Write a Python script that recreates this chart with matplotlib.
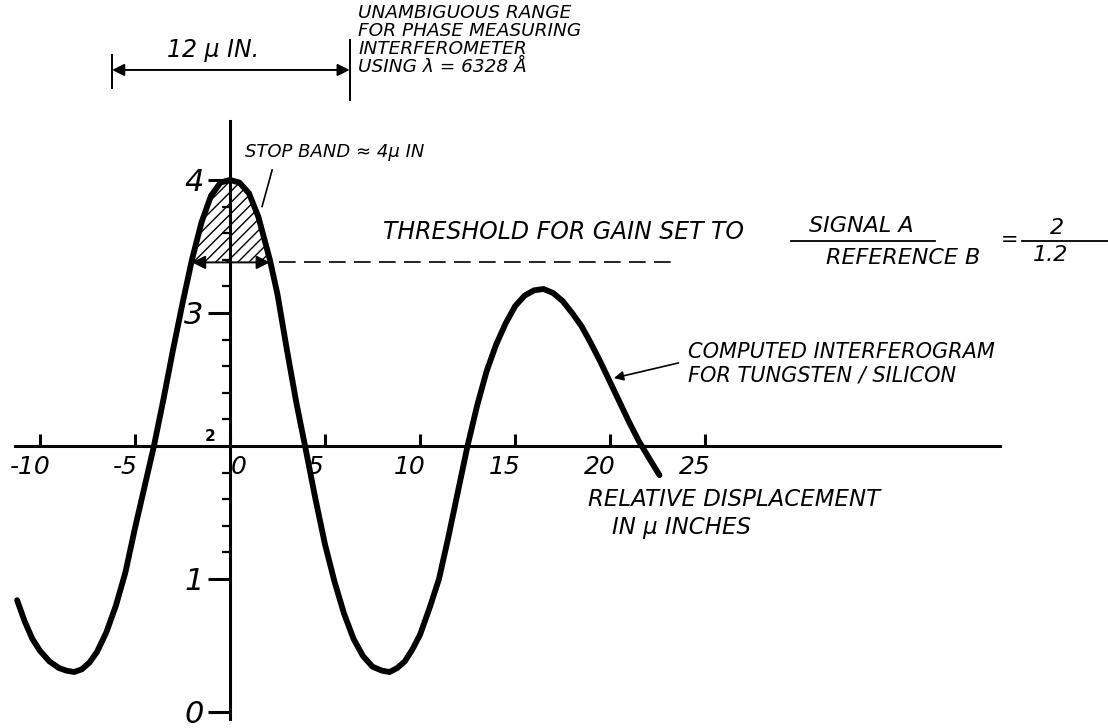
import numpy as np
import matplotlib
matplotlib.use("Agg")
import matplotlib.pyplot as plt
from matplotlib.transforms import ScaledTranslation

# computed interferogram, tungsten on silicon (relative displacement in micro-inches)
disp = [-11.2, -10.8, -10.4, -10.0, -9.5, -9.0, -8.6, -8.2, -7.8, -7.4, -7.0, -6.5,
        -6.0, -5.5, -5.0, -4.5, -4.0, -3.5, -3.0, -2.5, -2.0, -1.5, -1.0, -0.5,
        0.0, 0.5, 1.0, 1.5, 2.1, 2.5, 3.0, 3.5, 3.95, 4.5, 5.0, 5.5, 6.0, 6.5,
        7.0, 7.5, 8.0, 8.4, 8.8, 9.2, 9.6, 10.0, 10.5, 11.0, 11.5, 12.0, 12.5,
        13.0, 13.5, 14.0, 14.5, 15.0, 15.5, 16.0, 16.5, 17.0, 17.5, 18.0, 18.5,
        19.0, 19.5, 20.0, 20.5, 21.0, 21.5, 22.0, 22.6]
signal = [0.84, 0.68, 0.55, 0.46, 0.38, 0.33, 0.31, 0.30, 0.32, 0.37, 0.45, 0.60,
          0.80, 1.05, 1.38, 1.69, 2.00, 2.35, 2.72, 3.07, 3.40, 3.68, 3.88, 3.98,
          4.00, 3.98, 3.90, 3.72, 3.40, 3.14, 2.72, 2.32, 2.00, 1.60, 1.26, 0.98,
          0.74, 0.55, 0.42, 0.34, 0.31, 0.30, 0.33, 0.38, 0.47, 0.58, 0.78, 1.00,
          1.32, 1.66, 2.00, 2.30, 2.56, 2.76, 2.92, 3.05, 3.13, 3.17, 3.18, 3.15,
          3.09, 3.00, 2.90, 2.77, 2.63, 2.48, 2.33, 2.18, 2.04, 1.92, 1.78]

threshold = 3.38
band_lo, band_hi = -2.0, 2.1
range_lo, range_hi = -6.2, 6.3

xticks = [-10, -5, 0, 5, 10, 15, 20, 25]
xlabels = ['-10', '-5', '0', '5', '10', '15', '20', '25']
yticks = [0, 1, 3, 4]
ylabels = ['0', '1', '3', '4']
yminor = [1.2, 1.4, 1.6, 1.8, 2.2, 2.4, 2.6, 2.8, 3.2, 3.4, 3.6, 3.8]

hand = dict(family='DejaVu Sans', style='oblique', color='black')

plt.rcParams['hatch.linewidth'] = 1.0

fig = plt.figure(figsize=(11.08, 7.28), dpi=100)
ax = fig.add_axes([0, 0, 1, 1])
ax.set_xlim(-12.1, 46.2)
ax.set_ylim(-0.121, 5.353)

# axes crossing at (0, 2)
for s in ['top', 'right']:
    ax.spines[s].set_visible(False)
ax.spines['left'].set_position(('data', 0))
ax.spines['bottom'].set_position(('data', 2))
ax.spines['left'].set_bounds(-0.05, 4.44)
ax.spines['bottom'].set_bounds(-11.3, 40.5)
ax.spines['left'].set_linewidth(2.2)
ax.spines['bottom'].set_linewidth(2.2)

ax.set_xticks(xticks)
ax.set_xticklabels([])
ax.tick_params(axis='x', direction='in', length=9, width=2.2)
ax.set_yticks(yticks)
ax.set_yticklabels(ylabels, fontsize=22, **hand)
ax.set_yticks(yminor, minor=True)
ax.tick_params(axis='y', which='major', direction='out', length=16, width=2.2, pad=3)
ax.tick_params(axis='y', which='minor', direction='out', length=6, width=1.6)

off_left = ScaledTranslation(-0.10, 0, fig.dpi_scale_trans)
off_right = ScaledTranslation(0.09, 0, fig.dpi_scale_trans)
for v, s in zip(xticks, xlabels):
    tr = ax.transData + (off_right if v == 0 else off_left)
    ax.text(v, 1.84, s, transform=tr, fontsize=18, ha='center', va='center', **hand)
ax.text(-1.05, 2.07, '2', fontsize=11, fontweight='bold', ha='center', va='center')

# curve
ax.plot(disp, signal, color='black', lw=4.2, solid_capstyle='round',
        solid_joinstyle='round', zorder=3)

# stop band hatching above threshold
d = np.array(disp)
sg = np.array(signal)
m = (d >= band_lo) & (d <= band_hi)
ax.fill_between(d[m], sg[m], threshold, facecolor='none', edgecolor='black',
                hatch='///', linewidth=0, zorder=2)
ax.annotate('', xy=(band_lo, threshold), xytext=(band_hi, threshold),
            arrowprops=dict(arrowstyle='<|-|>', color='black', lw=1.4,
                            mutation_scale=20, shrinkA=0, shrinkB=0))
ax.plot([band_hi + 0.5, 23.4], [threshold, threshold], color='black', lw=1.2,
        dashes=(10, 5))

ax.text(0.8, 4.21, 'STOP BAND \u2248 4\u00b5 IN', fontsize=13, ha='left', va='center', **hand)
ax.plot([2.22, 1.69], [4.075, 3.80], color='black', lw=1.2)

ax.text(8.06, 3.61, 'THRESHOLD FOR GAIN SET TO', fontsize=17, ha='left', va='center', **hand)
ax.text(35.95, 3.654, 'SIGNAL A', fontsize=16, ha='right', va='center', **hand)
ax.plot([29.5, 37.1], [3.541, 3.541], color='black', lw=1.3)
ax.text(39.5, 3.413, 'REFERENCE B', fontsize=16, ha='right', va='center', **hand)
ax.text(41.0, 3.55, '=', fontsize=15, ha='center', va='center', **hand)
ax.text(43.5, 3.64, '2', fontsize=16, ha='center', va='center', **hand)
ax.plot([41.7, 46.2], [3.541, 3.541], color='black', lw=1.3)
ax.text(43.2, 3.436, '1.2', fontsize=16, ha='center', va='center', **hand)

# unambiguous range dimension
ax.plot([range_lo, range_lo], [4.69, 4.94], color='black', lw=1.4)
ax.plot([range_hi, range_hi], [4.60, 5.05], color='black', lw=1.4)
ax.annotate('', xy=(range_lo, 4.827), xytext=(range_hi, 4.827),
            arrowprops=dict(arrowstyle='<|-|>', color='black', lw=1.4,
                            mutation_scale=18, shrinkA=0, shrinkB=0))
ax.text(-0.9, 4.977, '12 \u00b5 IN.', fontsize=17, ha='center', va='center', **hand)
ax.text(6.74, 5.32, 'UNAMBIGUOUS RANGE\nFOR PHASE MEASURING\nINTERFEROMETER\n'
        'USING \u03bb = 6328 \u00c5', fontsize=13.3, ha='left', va='top',
        linespacing=1.0, **hand)

# curve label
ax.text(24.1, 2.706, 'COMPUTED INTERFEROGRAM', fontsize=15, ha='left', va='center', **hand)
ax.text(24.1, 2.526, 'FOR TUNGSTEN / SILICON', fontsize=15, ha='left', va='center', **hand)
ax.annotate('', xy=(20.2, 2.51), xytext=(23.6, 2.624),
            arrowprops=dict(arrowstyle='-|>', color='black', lw=1.2,
                            mutation_scale=14, shrinkA=0, shrinkB=0))

ax.text(18.85, 1.594, 'RELATIVE DISPLACEMENT', fontsize=16.5, ha='left', va='center', **hand)
ax.text(20.1, 1.39, 'IN \u00b5 INCHES', fontsize=16.5, ha='left', va='center', **hand)

fig.savefig('out.png', dpi=100)
